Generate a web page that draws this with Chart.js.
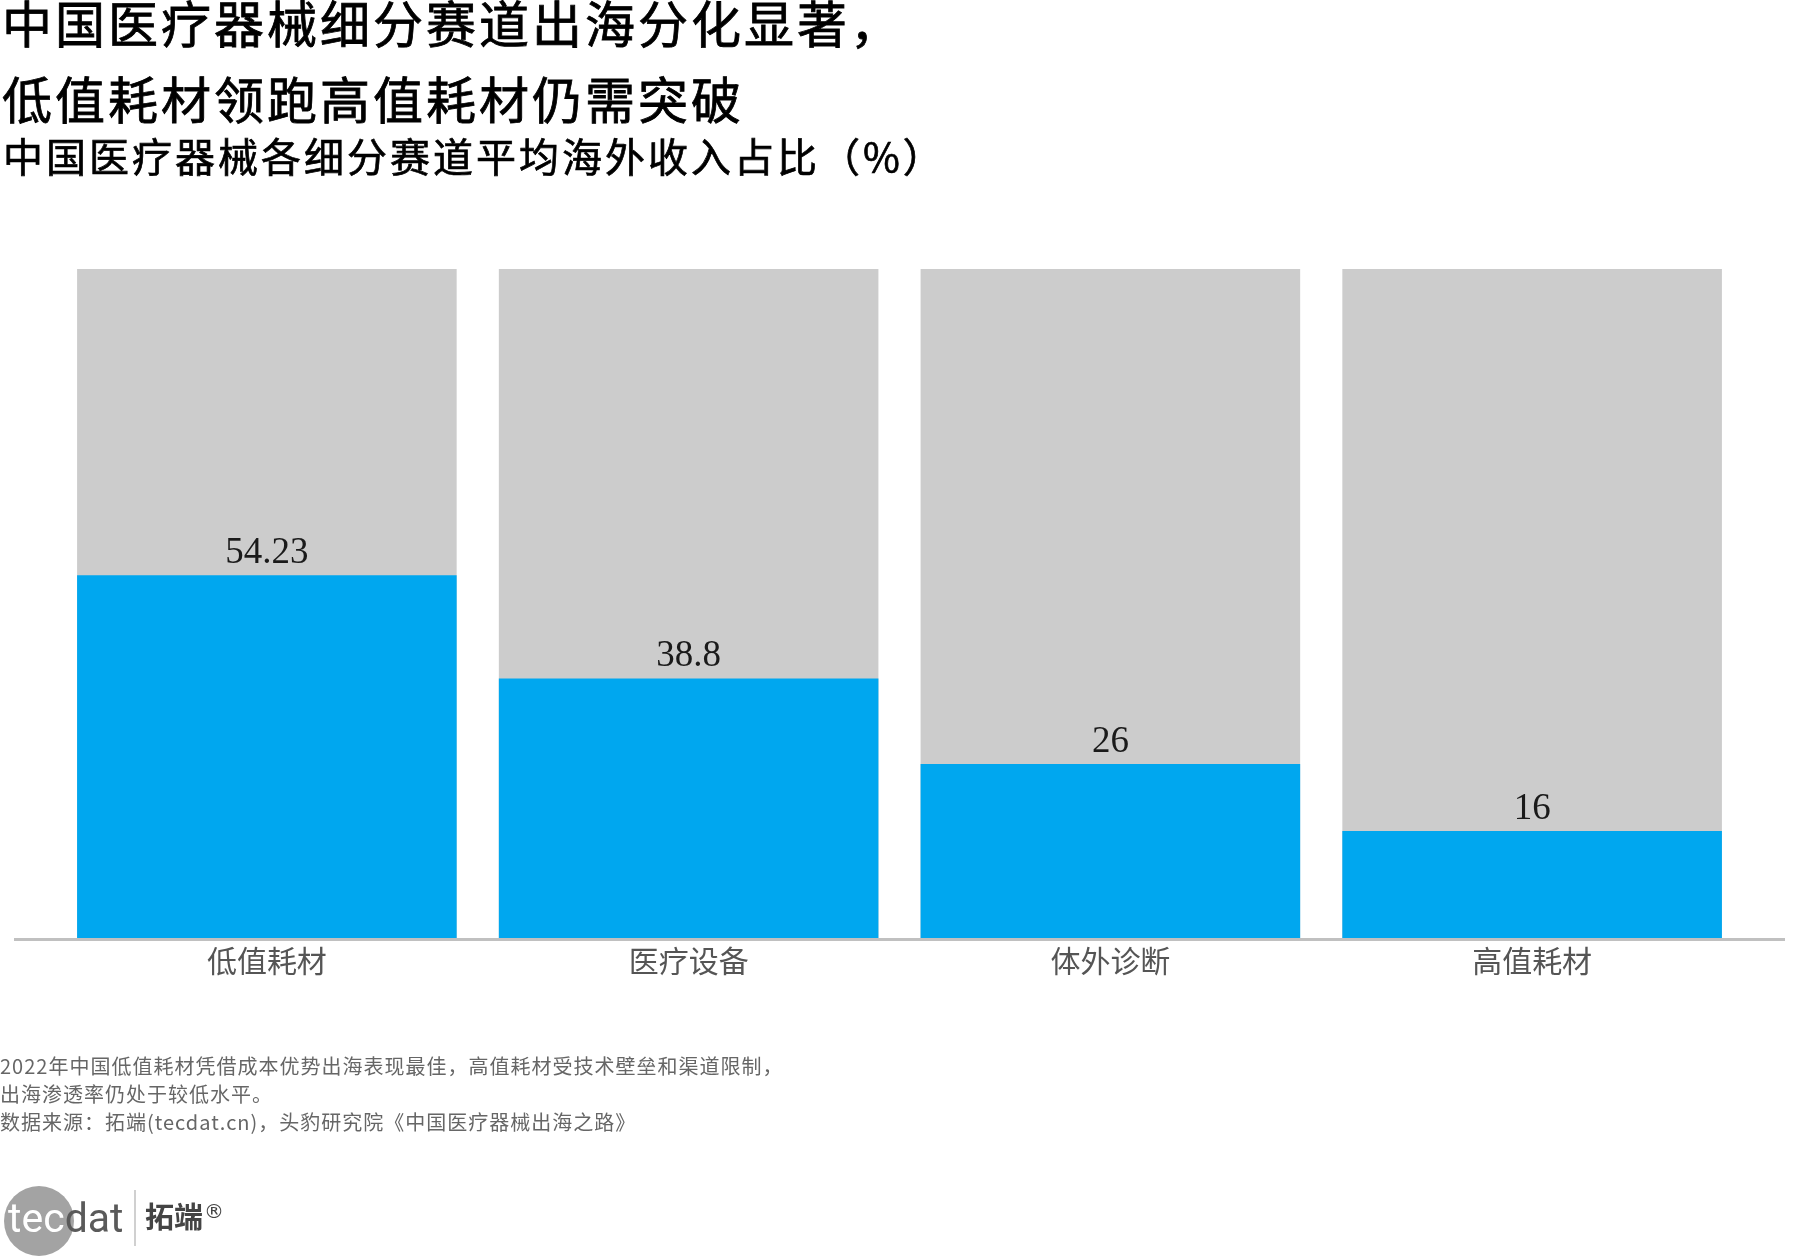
<!DOCTYPE html>
<html lang="zh-CN">
<head>
<meta charset="utf-8">
<title>中国医疗器械各细分赛道平均海外收入占比</title>
<script src="https://cdn.jsdelivr.net/npm/chart.js@4.4.1/dist/chart.umd.min.js"></script>
<style>
  html, body { margin: 0; padding: 0; background: #fff; }
  #page { position: relative; width: 1800px; height: 1260px; overflow: hidden; font-family: "Noto Sans CJK SC", sans-serif; }
  #chart { position: absolute; left: 0; top: 0; }
  .title { position: absolute; left: 2px; top: -17px; font-size: 50px; line-height: 76px; font-weight: normal; -webkit-text-stroke: 0.8px #000; color: #000; letter-spacing: 3px; white-space: nowrap; }
  .subtitle { position: absolute; left: 3px; top: 135px; font-size: 40px; line-height: 40px; font-weight: normal; -webkit-text-stroke: 0.7px #000; color: #000; letter-spacing: 3px; white-space: nowrap; }
  .note { position: absolute; left: 0; top: 1052px; font-size: 20px; line-height: 28px; color: #666; letter-spacing: 1px; white-space: nowrap; }
  .logo-circle { position: absolute; left: 4px; top: 1186px; width: 70px; height: 70px; border-radius: 50%; background: #a3a3a3; }
  .logo-text { position: absolute; left: 8px; top: 1198px; font-family: Roboto, sans-serif; font-size: 41px; line-height: 40px; color: #5a5a5a; }
  .logo-text span { color: #fff; }
  .logo-bar { position: absolute; left: 134px; top: 1190px; width: 2px; height: 56px; background: #d0d0d0; }
  .logo-cn { position: absolute; left: 145px; top: 1197px; font-size: 29px; line-height: 29px; font-weight: bold; color: #444; }
  .logo-cn sup { font-family: "DejaVu Sans", sans-serif; font-size: 20px; font-weight: normal; vertical-align: 10px; margin-left: 1px; }
</style>
</head>
<body>
<div id="page">
  <canvas id="chart" width="1800" height="1260"></canvas>
  <div class="title">中国医疗器械细分赛道出海分化显著，<br>低值耗材领跑高值耗材仍需突破</div>
  <div class="subtitle">中国医疗器械各细分赛道平均海外收入占比（%）</div>
  <div class="note">2022年中国低值耗材凭借成本优势出海表现最佳，高值耗材受技术壁垒和渠道限制，<br>出海渗透率仍处于较低水平。<br>数据来源：拓端(tecdat.cn)，头豹研究院《中国医疗器械出海之路》</div>
  <div class="logo-circle"></div>
  <div class="logo-text"><span>tec</span>dat</div>
  <div class="logo-bar"></div>
  <div class="logo-cn">拓端<sup>®</sup></div>
</div>
<script>
// chart data
const categories = ['低值耗材', '医疗设备', '体外诊断', '高值耗材'];
const overseasShare = [54.23, 38.8, 26, 16];
const fullScale = [100, 100, 100, 100]; // grey track behind each bar

// baseline under the bars + value labels above the blue bars
const barDecor = {
  id: 'barDecor',
  afterDatasetsDraw(chart) {
    const ctx = chart.ctx;
    const area = chart.chartArea;
    ctx.save();
    ctx.strokeStyle = '#c0c0c0';
    ctx.lineWidth = 3;
    ctx.beginPath();
    ctx.moveTo(area.left - 42, area.bottom + 1.5);
    ctx.lineTo(area.right + 42, area.bottom + 1.5);
    ctx.stroke();

    const meta = chart.getDatasetMeta(0);
    ctx.font = '37px "Liberation Serif", "DejaVu Serif", serif';
    ctx.fillStyle = '#1a1a1a';
    ctx.textAlign = 'center';
    ctx.textBaseline = 'alphabetic';
    meta.data.forEach(function (bar, i) {
      ctx.fillText(String(overseasShare[i]), bar.x, bar.y - 12);
    });
    ctx.restore();
  }
};

new Chart(document.getElementById('chart'), {
  type: 'bar',
  data: {
    labels: categories,
    datasets: [
      {
        label: '海外收入占比',
        data: overseasShare,
        backgroundColor: '#00A7EF',
        order: 0,
        grouped: false,
        barPercentage: 0.9,
        categoryPercentage: 1
      },
      {
        label: '总计',
        data: fullScale,
        backgroundColor: '#CCCCCC',
        order: 1,
        grouped: false,
        barPercentage: 0.9,
        categoryPercentage: 1
      }
    ]
  },
  options: {
    responsive: false,
    devicePixelRatio: 1,
    animation: false,
    layout: {
      padding: { left: 56, right: 57, top: 269, bottom: 276 }
    },
    scales: {
      x: {
        grid: { display: false, drawTicks: false },
        border: { display: false },
        ticks: {
          color: '#555',
          padding: 5,
          font: { family: '"Noto Sans CJK SC", sans-serif', size: 30 }
        }
      },
      y: {
        display: false,
        min: 0,
        max: 100
      }
    },
    plugins: {
      legend: { display: false },
      tooltip: { enabled: false }
    }
  },
  plugins: [barDecor]
});
</script>
</body>
</html>
